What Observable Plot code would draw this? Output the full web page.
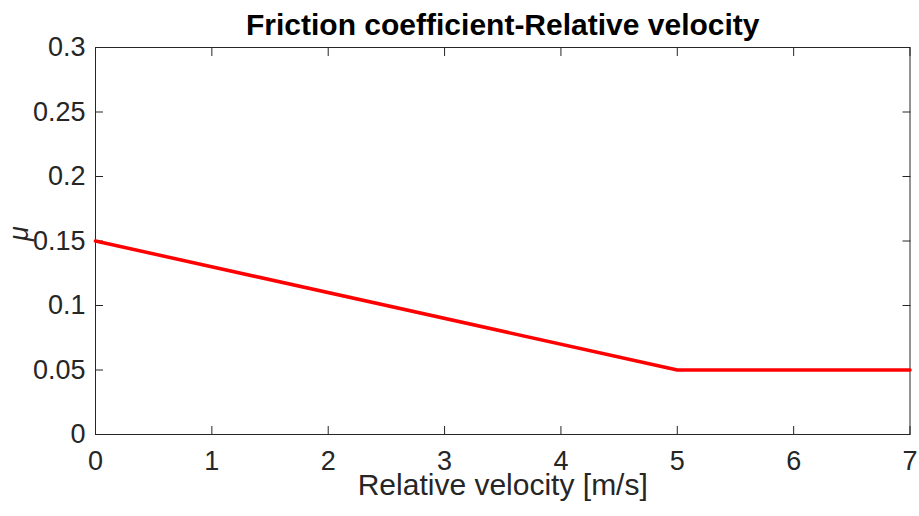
<!DOCTYPE html>
<html>
<head>
<meta charset="utf-8">
<script src="https://cdn.jsdelivr.net/npm/d3@7"></script>
<script src="https://cdn.jsdelivr.net/npm/@observablehq/plot@0.6"></script>
<style>
  html, body { margin: 0; padding: 0; background: #fff; }
  #chart svg { display: block; }
</style>
</head>
<body>
<div id="chart"></div>
<script>
const velocity = [0, 5, 7];
const mu = [0.15, 0.05, 0.05];
const xTicks = [0, 1, 2, 3, 4, 5, 6, 7];
const yTicks = [0, 0.05, 0.1, 0.15, 0.2, 0.25, 0.3];
const titleText = "Friction coefficient-Relative velocity";
const xLabel = "Relative velocity [m/s]";
const yLabel = "\u03BC";

const data = velocity.map((v, i) => ({v, m: mu[i]}));
const axisColor = "#262626";
const fmtY = d => String(+d.toFixed(2));
const fmtX = d => String(d);

const chart = Plot.plot({
  width: 919,
  height: 516,
  marginLeft: 95,
  marginRight: 9.5,
  marginTop: 47,
  marginBottom: 82,
  style: {fontFamily: "'Liberation Sans', Arial, sans-serif", fontSize: "27px", background: "#fff", color: axisColor},
  x: {domain: [0, 7]},
  y: {domain: [0, 0.3]},
  marks: [
    Plot.axisX(xTicks, {anchor: "bottom", tickSize: 0, tickPadding: 16, fontSize: 27, fill: axisColor, tickFormat: fmtX, label: null}),
    Plot.axisX(xTicks, {anchor: "bottom", tickSize: -8, tickFormat: () => "", stroke: axisColor, label: null}),
    Plot.axisX(xTicks, {anchor: "top", tickSize: -8, tickFormat: () => "", stroke: axisColor, label: null}),
    Plot.axisY(yTicks, {anchor: "left", tickSize: 0, tickPadding: 10, fontSize: 27, fill: axisColor, tickFormat: fmtY, label: null}),
    Plot.axisY(yTicks, {anchor: "left", tickSize: -8, tickFormat: () => "", stroke: axisColor, label: null}),
    Plot.axisY(yTicks, {anchor: "right", tickSize: -8, tickFormat: () => "", stroke: axisColor, label: null}),
    Plot.frame({stroke: axisColor, strokeWidth: 1}),
    Plot.line(data, {x: "v", y: "m", stroke: "#ff0000", strokeWidth: 3.5}),
    Plot.text([titleText], {frameAnchor: "top", lineAnchor: "middle", dy: -22, fontSize: 30, fontWeight: "bold", fill: "#000"}),
    Plot.text([xLabel], {frameAnchor: "bottom", lineAnchor: "middle", dy: 51, fontSize: 30, fill: axisColor}),
    Plot.text([yLabel], {frameAnchor: "left", lineAnchor: "middle", dx: -76, rotate: -90, fontSize: 27, fontStyle: "italic", fill: axisColor})
  ]
});
document.getElementById("chart").appendChild(chart);
</script>
</body>
</html>
